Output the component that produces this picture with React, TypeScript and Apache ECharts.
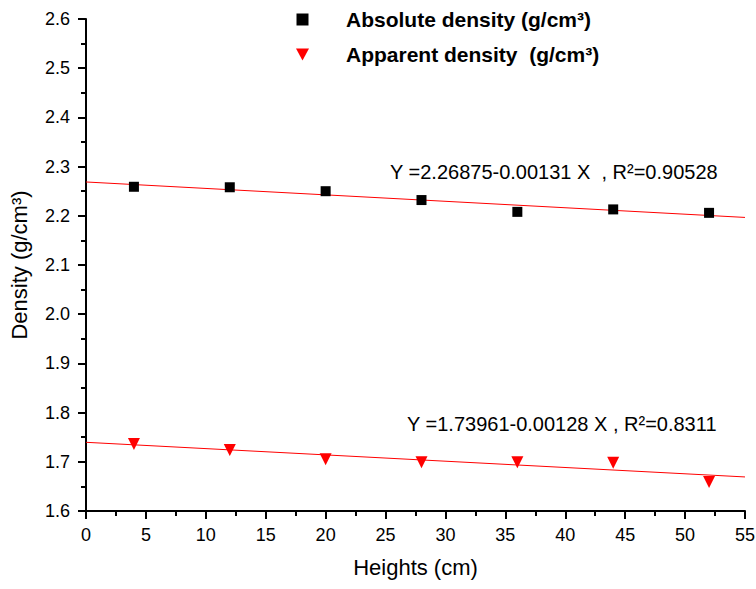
import React, { useEffect, useRef } from "react";
import * as echarts from "echarts";

const heights = [4, 12, 20, 28, 36, 44, 52];
const absoluteDensity = [2.259, 2.258, 2.25, 2.232, 2.208, 2.213, 2.206];
const apparentDensity = [1.736, 1.724, 1.705, 1.699, 1.699, 1.698, 1.659];
const absFit = { a: 2.26875, b: -0.00131 };
const appFit = { a: 1.73961, b: -0.00128 };
const fitRange = [0, 55];
const absLabel = "Y =2.26875-0.00131 X  , R\u00b2=0.90528";
const appLabel = "Y =1.73961-0.00128 X , R\u00b2=0.8311";
const absName = "Absolute density (g/cm\u00b3)";
const appName = "Apparent density  (g/cm\u00b3)";

const FONT = "'Liberation Sans', Arial, sans-serif";

export default function App() {
  const ref = useRef<HTMLDivElement>(null);
  useEffect(() => {
    if (!ref.current) return;
    const chart = echarts.init(ref.current, null, { renderer: "svg" });
    const fitLine = (f: { a: number; b: number }) =>
      fitRange.map((x) => [x, f.a + f.b * x]);
    chart.setOption({
      animation: false,
      backgroundColor: "#fff",
      textStyle: { fontFamily: FONT },
      grid: { left: 86, right: 11, top: 19, bottom: 78, outerBoundsMode: "none", containLabel: false },
      legend: {
        data: [
          { name: absName, icon: "path://M1,1 L11,1 L11,11 L1,11 Z" },
          { name: appName, icon: "path://M0,0 L13,0 L6.5,12 Z" },
        ],
        orient: "vertical",
        left: 296,
        top: 7,
        padding: 0,
        itemGap: 10,
        itemWidth: 13,
        itemHeight: 12,
        textStyle: {
          fontFamily: FONT,
          fontWeight: "bold",
          fontSize: 21,
          color: "#000",
          lineHeight: 25,
          padding: [0, 0, 0, 32],
        },
      },
      xAxis: {
        type: "value",
        min: 0,
        max: 55,
        interval: 5,
        name: "Heights (cm)",
        nameLocation: "middle",
        nameGap: 45,
        nameTextStyle: { fontSize: 22, color: "#000", fontFamily: FONT },
        axisLine: { onZero: false, lineStyle: { color: "#000", width: 2 } },
        axisTick: { inside: false, length: 8, lineStyle: { color: "#000", width: 2 } },
        minorTick: { show: true, splitNumber: 2, length: 5, lineStyle: { color: "#000", width: 2 } },
        splitLine: { show: false },
        axisLabel: { fontSize: 18, color: "#000", margin: 15, fontFamily: FONT },
      },
      yAxis: {
        type: "value",
        min: 1.6,
        max: 2.6,
        interval: 0.1,
        name: "Density (g/cm\u00b3)",
        nameLocation: "middle",
        nameGap: 56,
        nameTextStyle: { fontSize: 22, color: "#000", fontFamily: FONT },
        axisLine: { show: true, onZero: false, lineStyle: { color: "#000", width: 2 } },
        axisTick: { show: true, inside: false, length: 8, lineStyle: { color: "#000", width: 2 } },
        minorTick: { show: true, splitNumber: 2, length: 5, lineStyle: { color: "#000", width: 2 } },
        splitLine: { show: false },
        axisLabel: {
          fontSize: 18,
          color: "#000",
          margin: 16,
          fontFamily: FONT,
          formatter: (v: number) => v.toFixed(1),
        },
      },
      series: [
        {
          name: absName,
          type: "scatter",
          symbol: "rect",
          symbolSize: 10,
          itemStyle: { color: "#000", opacity: 1 },
          data: heights.map((h, i) => [h, absoluteDensity[i]]),
          z: 3,
        },
        {
          name: appName,
          type: "scatter",
          symbol: "triangle",
          symbolRotate: 180,
          symbolSize: 12,
          itemStyle: { color: "#ff0000", opacity: 1 },
          data: heights.map((h, i) => [h, apparentDensity[i]]),
          z: 3,
        },
        {
          name: "absFit",
          type: "line",
          showSymbol: false,
          symbol: "none",
          lineStyle: { color: "#ff0000", width: 1 },
          data: fitLine(absFit),
          z: 2,
        },
        {
          name: "appFit",
          type: "line",
          showSymbol: false,
          symbol: "none",
          lineStyle: { color: "#ff0000", width: 1 },
          data: fitLine(appFit),
          z: 2,
        },
      ],
      graphic: [
        {
          type: "text",
          left: 390,
          top: 162,
          style: { text: absLabel, fontSize: 20, fill: "#000", fontFamily: FONT },
        },
        {
          type: "text",
          left: 407,
          top: 414,
          style: { text: appLabel, fontSize: 20, fill: "#000", fontFamily: FONT },
        },
      ],
    });
    return () => chart.dispose();
  }, []);
  return (
    <div
      ref={ref}
      style={{ position: "fixed", left: 0, top: 0, width: 756, height: 589 }}
    />
  );
}
